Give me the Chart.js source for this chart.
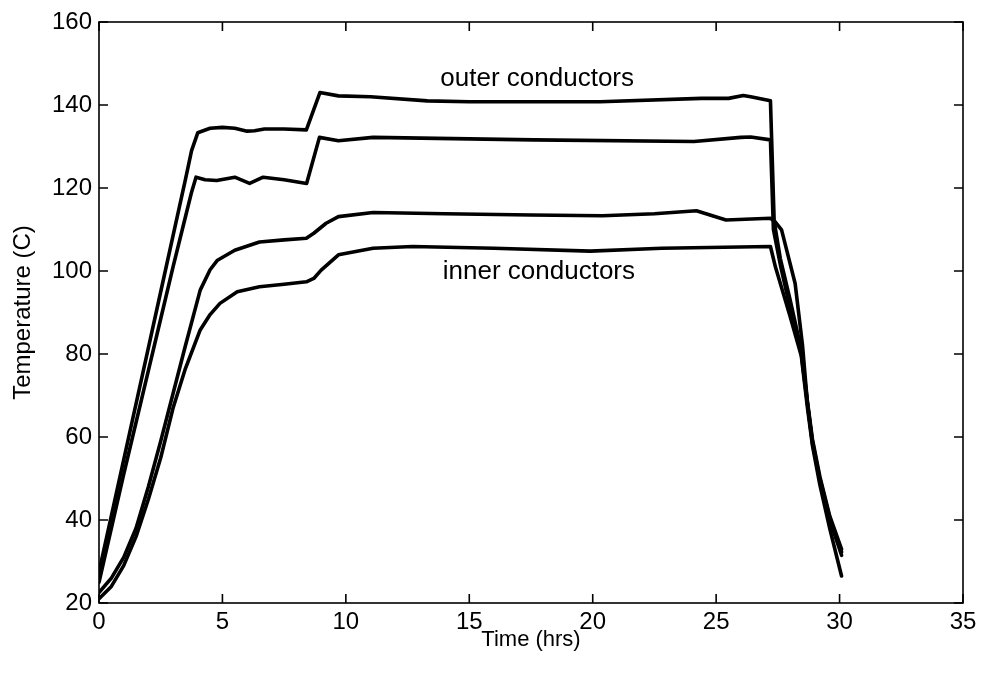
<!DOCTYPE html>
<html>
<head>
<meta charset="utf-8">
<script src="https://cdn.jsdelivr.net/npm/chart.js@4"></script>
<style>
  html, body { margin: 0; padding: 0; background: #fff; }
  #wrap { width: 985px; height: 678px; }
</style>
</head>
<body>
<div id="wrap"><canvas id="tempChart" width="985" height="678"></canvas></div>
<script>
// --- DATA ---
// outer conductor, hottest
const outerHotTime = [0, 0.5, 1, 1.5, 2, 2.5, 3, 3.5, 3.75, 4.0, 4.5, 5.0, 5.5, 6.0, 6.3, 6.7, 7.5, 8.4, 8.95, 9.7, 11, 13.3, 15, 20.3, 24.4, 25.5, 26.1, 26.4, 27.2, 27.35, 27.6, 28.0, 28.45, 28.7, 28.9, 29.2, 29.6, 30.08];
const outerHotTemp = [27.5, 41, 54.5, 68, 81.5, 95, 108.5, 122, 129, 133.3, 134.4, 134.6, 134.4, 133.7, 133.8, 134.2, 134.2, 134, 143, 142.2, 142, 141, 140.8, 140.8, 141.6, 141.6, 142.3, 142, 141, 112, 103, 93, 81, 68.5, 59.5, 50.5, 41, 33];

// outer conductor, second
const outerTime = [0, 0.5, 1, 1.5, 2, 2.5, 3, 3.5, 3.75, 3.93, 4.3, 4.77, 5.5, 6.1, 6.65, 7.5, 8.41, 8.93, 9.7, 11.1, 17.6, 24.1, 26.0, 26.4, 27.2, 27.32, 27.6, 28.0, 28.45, 28.7, 28.9, 29.2, 29.6, 30.08];
const outerTemp = [25, 38, 51, 63.5, 76, 88.5, 101, 113, 119, 122.6, 122.0, 121.8, 122.6, 121.1, 122.6, 122.0, 121.1, 132.2, 131.4, 132.2, 131.6, 131.2, 132.2, 132.3, 131.6, 110, 101.5, 91, 80, 68, 59, 50, 40.5, 32.3];

// inner conductor, upper
const innerHotTime = [0, 0.5, 1, 1.5, 2, 2.5, 3, 3.5, 4.1, 4.5, 4.8, 5.5, 6.5, 7.5, 8.4, 8.7, 9.2, 9.7, 11.1, 14, 17.5, 20.4, 22.5, 24.2, 25.4, 27.2, 27.4, 27.65, 28.2, 28.5, 28.7, 28.9, 29.2, 29.6, 30.08];
const innerHotTemp = [22.5, 26, 31, 38, 48, 59, 70.5, 82, 95.4, 100.3, 102.6, 105, 107, 107.5, 107.9, 109.1, 111.5, 113.1, 114.1, 113.8, 113.5, 113.3, 113.8, 114.5, 112.3, 112.7, 111.8, 109.9, 97, 82, 68, 58.5, 49.5, 40, 31.5];

// inner conductor, lower
const innerTime = [0, 0.5, 1, 1.5, 2, 2.5, 3, 3.5, 4.1, 4.5, 4.9, 5.6, 6.5, 7.5, 8.4, 8.7, 9.0, 9.7, 11.1, 12.7, 16, 19.9, 22.8, 27.2, 27.4, 28.0, 28.45, 28.7, 28.9, 29.2, 29.6, 30.08];
const innerTemp = [21, 24, 29, 36, 45, 55, 67, 76.5, 85.8, 89.5, 92.2, 95, 96.2, 96.8, 97.4, 98.2, 100.2, 103.9, 105.5, 105.9, 105.5, 104.8, 105.5, 105.9, 101, 89, 79.5, 67, 58, 48.5, 38, 26.5];

const xTicks = [0, 5, 10, 15, 20, 25, 30, 35];
const yTicks = [20, 40, 60, 80, 100, 120, 140, 160];

const FONT = "'Liberation Sans', Arial, Helvetica, sans-serif";
const TICK_LEN = 9;

function toPoints(times, temps) {
    return times.map((t, i) => ({ x: t, y: temps[i] }));
}

function lineSet(times, temps) {
    return {
        data: toPoints(times, temps),
        showLine: true,
        borderColor: '#000',
        borderWidth: 3.6,
        borderJoinStyle: 'round',
        borderCapStyle: 'round',
        pointRadius: 0,
        fill: false
    };
}

// box round the plot, inward ticks on all sides, and the two labels
const frameAndTicks = {
    id: 'frameAndTicks',
    afterDatasetsDraw(chart) {
        const { ctx, chartArea: a, scales: { x, y } } = chart;
        ctx.save();
        ctx.strokeStyle = '#000';
        ctx.lineWidth = 1.6;
        ctx.strokeRect(a.left, a.top, a.right - a.left, a.bottom - a.top);

        ctx.beginPath();
        x.ticks.forEach(t => {
            const px = x.getPixelForValue(t.value);
            ctx.moveTo(px, a.bottom); ctx.lineTo(px, a.bottom - TICK_LEN);
            ctx.moveTo(px, a.top); ctx.lineTo(px, a.top + TICK_LEN);
        });
        y.ticks.forEach(t => {
            const py = y.getPixelForValue(t.value);
            ctx.moveTo(a.left, py); ctx.lineTo(a.left + TICK_LEN, py);
            ctx.moveTo(a.right, py); ctx.lineTo(a.right - TICK_LEN, py);
        });
        ctx.stroke();

        ctx.fillStyle = '#000';
        ctx.font = '26px ' + FONT;
        ctx.textAlign = 'center';
        ctx.textBaseline = 'middle';
        ctx.fillText('outer conductors', x.getPixelForValue(17.75), y.getPixelForValue(146.3));
        ctx.fillText('inner conductors', x.getPixelForValue(17.82), y.getPixelForValue(99.8));
        ctx.restore();
    }
};

const ctx = document.getElementById('tempChart').getContext('2d');

new Chart(ctx, {
    type: 'scatter',
    data: {
        datasets: [
            lineSet(outerHotTime, outerHotTemp),
            lineSet(outerTime, outerTemp),
            lineSet(innerHotTime, innerHotTemp),
            lineSet(innerTime, innerTemp)
        ]
    },
    options: {
        responsive: false,
        devicePixelRatio: 1,
        animation: false,
        layout: { padding: { top: 22, right: 22, left: 0, bottom: 0 } },
        plugins: { legend: { display: false }, tooltip: { enabled: false } },
        scales: {
            x: {
                type: 'linear',
                min: 0,
                max: 35,
                afterBuildTicks: s => { s.ticks = xTicks.map(v => ({ value: v })); },
                afterFit: s => { s.height = 75; },
                grid: { display: false, drawTicks: false },
                border: { display: false },
                ticks: { color: '#000', font: { family: FONT, size: 24 }, padding: 5, maxRotation: 0, autoSkip: false },
                title: { display: true, text: 'Time (hrs)', color: '#000', font: { family: FONT, size: 22 }, padding: { bottom: 25 } }
            },
            y: {
                type: 'linear',
                min: 20,
                max: 160,
                afterBuildTicks: s => { s.ticks = yTicks.map(v => ({ value: v })); },
                afterFit: s => { s.width = 99; },
                grid: { display: false, drawTicks: false },
                border: { display: false },
                ticks: { color: '#000', font: { family: FONT, size: 24 }, padding: 7, autoSkip: false },
                title: { display: true, text: 'Temperature (C)', color: '#000', font: { family: FONT, size: 24 }, padding: { top: 9 } }
            }
        }
    },
    plugins: [frameAndTicks]
});
</script>
</body>
</html>
